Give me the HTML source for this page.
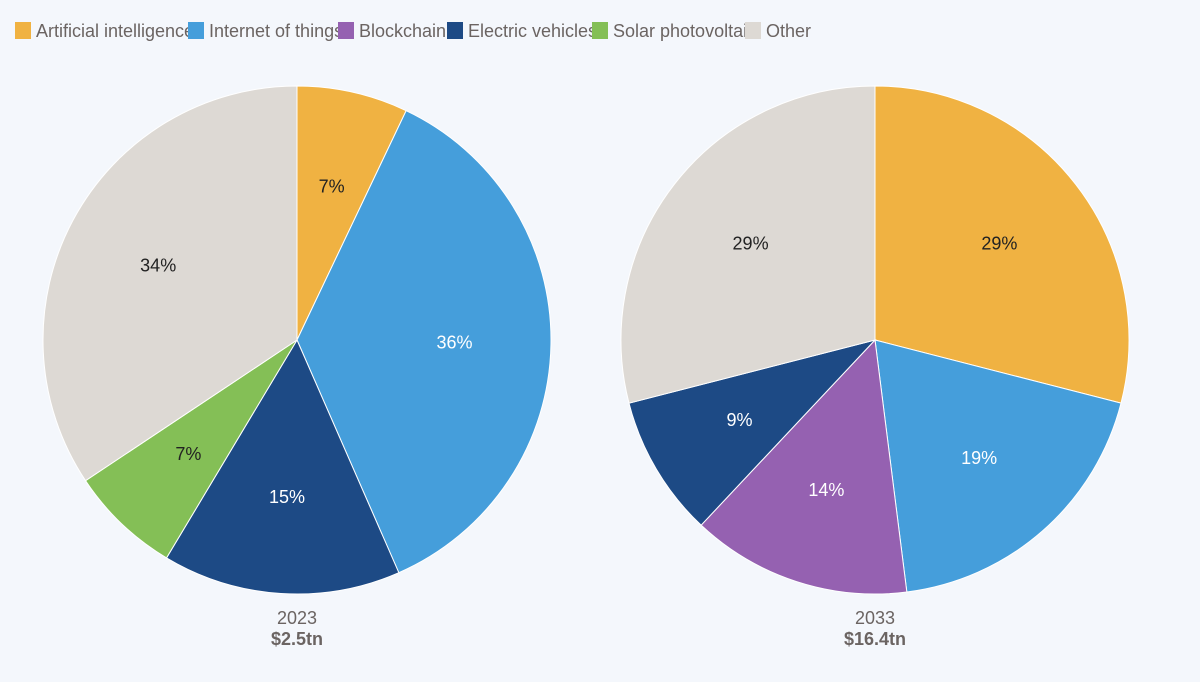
<!DOCTYPE html>
<html><head><meta charset="utf-8"><style>
html,body{margin:0;padding:0;background:#f4f7fc;}
body{width:1200px;height:677px;overflow:hidden;font-family:"Liberation Sans Narrow","Liberation Sans",sans-serif;}
svg text{font-family:"Liberation Sans Narrow","Liberation Sans",sans-serif;}
</style></head><body>
<svg id="chart" width="1200" height="677" viewBox="0 0 1200 677" xmlns="http://www.w3.org/2000/svg">
<rect width="1200" height="677" fill="#f4f7fc"/>
<g id="legend"></g>
<g id="pies"></g>
</svg>
<script>
const categories = ["Artificial intelligence","Internet of things","Blockchain","Electric vehicles","Solar photovoltaic","Other"];
const values2023 = [7,36,0,15,7,34];
const values2033 = [29,19,14,9,0,29];
const years = ["2023","2033"];
const totals = ["$2.5tn","$16.4tn"];
const colors = ["#f0b242","#459edb","#9561b1","#1d4a85","#84bf56","#ddd9d4"];
const labelDark = [true,false,false,false,true,true];
const NS="http://www.w3.org/2000/svg";
function mk(tag,attrs,parent){const e=document.createElementNS(NS,tag);for(const k in attrs)e.setAttribute(k,attrs[k]);parent.appendChild(e);return e;}
// legend
const legend=document.getElementById('legend');
const legendX=[15,188,338,447,592,745];
categories.forEach((c,i)=>{
  const g=mk('g',{},legend);
  
  
  const r=mk('rect',{x:legendX[i],y:22,width:16,height:17,fill:colors[i]},g);
  
  
  const t=mk('text',{x:legendX[i]+21,y:37,'font-size':18,fill:'#6b6462'},g);
  
  
  t.textContent=c;
});
// pies
const pies=document.getElementById('pies');
const R=254;
function drawPie(vals,cx,cy,idx){
  const g=mk('g',{},pies);
  
  
  const sum=vals.reduce((a,b)=>a+b,0);
  let a0=0;
  vals.forEach((v,i)=>{
    if(v<=0)return;
    const a1=a0+v/sum*2*Math.PI;
    const x0=cx+R*Math.sin(a0),y0=cy-R*Math.cos(a0);
    const x1=cx+R*Math.sin(a1),y1=cy-R*Math.cos(a1);
    const large=(a1-a0)>Math.PI?1:0;
    const p=mk('path',{d:`M${cx},${cy} L${x0},${y0} A${R},${R} 0 ${large} 1 ${x1},${y1} Z`,fill:colors[i],stroke:'#ffffff','stroke-width':1},g);
    
    
    const am=(a0+a1)/2;
    const t=mk('text',{x:cx+0.62*R*Math.sin(am),y:cy-0.62*R*Math.cos(am)+6,'font-size':18,'text-anchor':'middle',fill:labelDark[i]?'#222':'#ffffff'},g);
    
    
    t.textContent=v+'%';
    a0=a1;
  });
  const y=mk('text',{x:cx,y:624,'font-size':18,'text-anchor':'middle',fill:'#6b6462'},g);
  
  
  y.textContent=years[idx];
  const tt=mk('text',{x:cx,y:645,'font-size':18,'font-weight':'bold','text-anchor':'middle',fill:'#6b6462'},g);
  
  
  tt.textContent=totals[idx];
}
drawPie(values2023,297,340,0);
drawPie(values2033,875,340,1);
</script>
</body></html>
